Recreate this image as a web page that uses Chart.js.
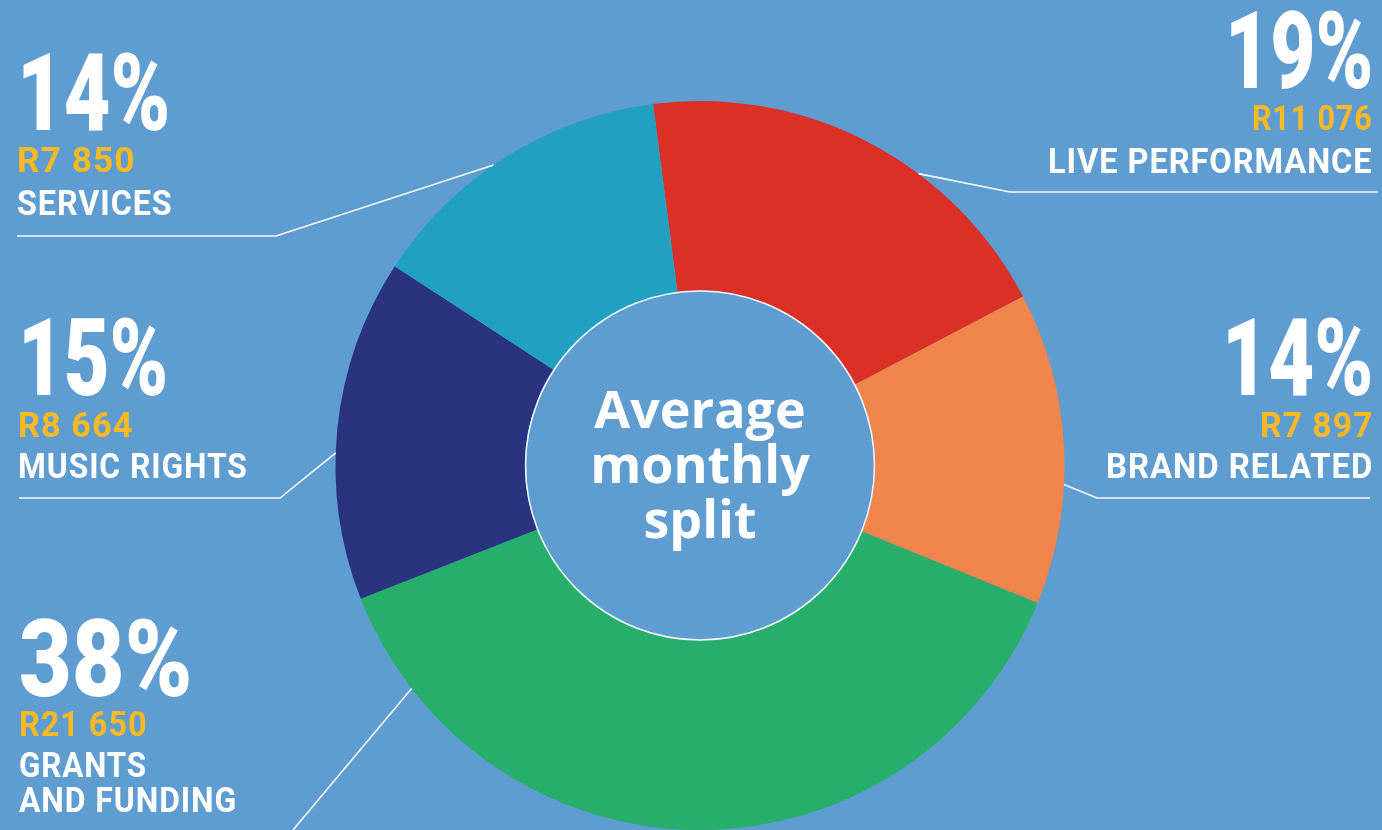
<!DOCTYPE html>
<html>
<head>
<meta charset="utf-8">
<title>Average monthly split</title>
<script src="https://cdn.jsdelivr.net/npm/chart.js@4/dist/chart.umd.min.js"></script>
<style>
    html, body { margin: 0; padding: 0; background: #5f9dd1; }
    #wrap { position: relative; width: 1382px; height: 830px; overflow: hidden; }
    #splitChart { position: absolute; left: 0; top: 0; }
    .lbl { position: absolute; white-space: nowrap; line-height: 1; font-family: Roboto, sans-serif; }
    .pct { font-weight: 900; color: #fff; }
    .amt { font-weight: 700; color: #fbba22; letter-spacing: 1px; }
    .name { font-weight: 700; color: #fff; letter-spacing: 1px; }
    #centre {
        position: absolute; left: 500px; width: 400px; top: 380px;
        text-align: center; color: #fff;
        font-family: "Open Sans", sans-serif; font-weight: 700;
        font-size: 52px; line-height: 55px;
    }
</style>
</head>
<body>
<div id="wrap">
    <canvas id="splitChart" width="1382" height="830"></canvas>
    <div id="labels"></div>
    <div id="centre">Average<br>monthly<br>split</div>
</div>
<script>
// monthly income split (rand)
const categories = ['LIVE PERFORMANCE', 'BRAND RELATED', 'GRANTS\nAND FUNDING', 'MUSIC RIGHTS', 'SERVICES'];
const amounts = [11076, 7897, 21650, 8664, 7850];
const colours = ['#dc3027', '#f2854c', '#27ae6b', '#293380', '#22a0c2'];

const total = amounts.reduce((acc, v) => acc + v, 0);
const percents = amounts.map(v => Math.round(v / total * 100));
const formatRand = v => 'R' + v.toString().replace(/\B(?=(\d{3})+(?!\d))/g, ' ');

// where each label block sits: x anchor, baselines and fitted widths per line
// leader: angle on the ring (deg, clockwise from top) and the elbow / underline end
const labelLayout = [
    { side: 'right', x: 1373, pct: [88, 148], amt: [130, 121], name: [[173, 325]], angle: 36.8, elbow: [1010, 192], lineEnd: 1378 },
    { side: 'right', x: 1373, pct: [395, 151], amt: [437, 113], name: [[478, 267]], angle: 93.0, elbow: [1097, 498], lineEnd: 1370 },
    { side: 'left', x: 19, pct: [696, 173], amt: [736, 129], name: [[777, 128], [812, 218]], angle: 232.3, elbow: [293, 830], lineEnd: null },
    { side: 'left', x: 18, pct: [395, 150], amt: [437, 115], name: [[478, 230]], angle: 272.0, elbow: [280, 498], lineEnd: 19 },
    { side: 'left', x: 17, pct: [130, 153], amt: [172, 118], name: [[215, 156]], angle: 325.5, elbow: [276, 236], lineEnd: 17 }
];

const PCT_SIZE = 108;
const TEXT_SIZE = 35;
const BASE_RATIO = 0.842; // Roboto baseline offset with line-height 1

const holder = document.getElementById('labels');
const fitted = [];

function addLine(text, cls, size, base, width, pos) {
    const el = document.createElement('div');
    el.className = 'lbl ' + cls;
    el.textContent = text;
    el.style.fontSize = size + 'px';
    el.style.top = (base - size * BASE_RATIO) + 'px';
    if (pos.side === 'left') {
        el.style.left = pos.x + 'px';
        el.style.transformOrigin = 'left center';
    } else {
        el.style.right = (1382 - pos.x) + 'px';
        el.style.transformOrigin = 'right center';
    }
    holder.appendChild(el);
    fitted.push({ el, width });
}

labelLayout.forEach((pos, i) => {
    addLine(percents[i] + '%', 'pct', PCT_SIZE, pos.pct[0], pos.pct[1], pos);
    addLine(formatRand(amounts[i]), 'amt', TEXT_SIZE, pos.amt[0], pos.amt[1], pos);
    categories[i].split('\n').forEach((line, j) => {
        addLine(line, 'name', TEXT_SIZE, pos.name[j][0], pos.name[j][1], pos);
    });
});

// squeeze each line to the width of the condensed display face
// (offsetWidth ignores the transform, so this can run more than once)
function fitLabels() {
    fitted.forEach(({ el, width }) => {
        const w = el.offsetWidth;
        if (w > 0) el.style.transform = `scaleX(${width / w})`;
    });
}

const ringDecor = {
    id: 'ringDecor',
    afterDatasetsDraw(chart) {
        const arc = chart.getDatasetMeta(0).data[0];
        if (!arc) return;
        const { x: cx, y: cy, innerRadius, outerRadius } = arc.getProps(['x', 'y', 'innerRadius', 'outerRadius'], true);
        const ctx = chart.ctx;
        ctx.save();
        ctx.strokeStyle = 'rgba(255,255,255,0.95)';

        // thin white ring round the hole
        ctx.lineWidth = 1.5;
        ctx.beginPath();
        ctx.arc(cx, cy, innerRadius - 0.5, 0, Math.PI * 2);
        ctx.stroke();

        // leader lines from the ring to each label
        ctx.lineWidth = 1.6;
        labelLayout.forEach(pos => {
            const a = pos.angle * Math.PI / 180;
            const sx = cx + outerRadius * Math.sin(a);
            const sy = cy - outerRadius * Math.cos(a);
            ctx.beginPath();
            ctx.moveTo(sx, sy);
            ctx.lineTo(pos.elbow[0], pos.elbow[1]);
            if (pos.lineEnd !== null) ctx.lineTo(pos.lineEnd, pos.elbow[1]);
            ctx.stroke();
        });
        ctx.restore();
    }
};

new Chart(document.getElementById('splitChart').getContext('2d'), {
    type: 'doughnut',
    data: {
        labels: categories,
        datasets: [{
            data: amounts,
            backgroundColor: colours,
            borderWidth: 0,
            hoverOffset: 0
        }]
    },
    options: {
        responsive: false,
        animation: false,
        rotation: -7.4,
        cutout: '48%',
        layout: {
            padding: { left: 335, right: 317, top: 101, bottom: 0 }
        },
        plugins: {
            legend: { display: false },
            tooltip: { enabled: false }
        }
    },
    plugins: [ringDecor]
});

fitLabels();
document.fonts.ready.then(fitLabels);
</script>
</body>
</html>
